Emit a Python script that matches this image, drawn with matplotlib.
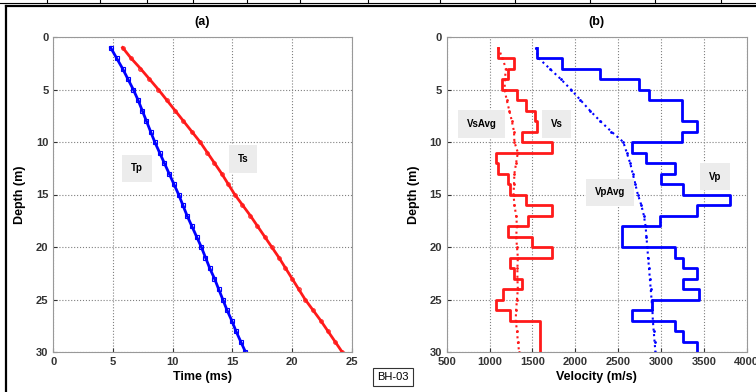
import numpy as np
import matplotlib
matplotlib.use('Agg')
from matplotlib import pyplot as plt
from matplotlib.lines import Line2D

plt.rcParams['font.family'] = ['Liberation Sans', 'DejaVu Sans']

# (a) travel times, depth 1..30 m
depth = np.arange(1, 31)
tp = [4.8, 5.3, 5.8, 6.25, 6.7, 7.1, 7.45, 7.8, 8.15, 8.5,
      8.9, 9.3, 9.7, 10.1, 10.5, 10.85, 11.2, 11.6, 12.0, 12.4,
      12.75, 13.1, 13.5, 13.85, 14.2, 14.55, 14.95, 15.3, 15.7, 16.1]
ts = [5.8, 6.5, 7.3, 8.05, 8.8, 9.5, 10.2, 10.9, 11.6, 12.3,
      12.9, 13.5, 14.1, 14.65, 15.2, 15.85, 16.5, 17.1, 17.7, 18.3,
      18.9, 19.45, 20.0, 20.55, 21.1, 21.75, 22.4, 23.0, 23.6, 24.2]

# (b) interval velocities, layers 1-2 ... 29-30 m
vs = [1100, 1280, 1220, 1150, 1320, 1430, 1530, 1550, 1375, 1725,
      1070, 1100, 1220, 1240, 1430, 1725, 1450, 1220, 1490, 1725,
      1240, 1280, 1375, 1160, 1070, 1240, 1590, 1590, 1590]
vp = [1550, 1840, 2290, 2740, 2860, 3240, 3240, 3420, 3240, 2660,
      2830, 3160, 3000, 3260, 3810, 3420, 2990, 2540, 2540, 3160,
      3260, 3420, 3260, 3440, 2890, 2660, 3160, 3260, 3420]
# average velocities at depth 1..30
vs_avg = [1100, 1150, 1190, 1180, 1175, 1200, 1230, 1260, 1285, 1290,
          1330, 1310, 1290, 1285, 1280, 1290, 1310, 1320, 1310, 1320,
          1330, 1325, 1325, 1330, 1320, 1310, 1305, 1320, 1330, 1345]
vp_avg = [1540, 1570, 1700, 1830, 1950, 2060, 2170, 2290, 2420, 2560,
          2600, 2640, 2670, 2700, 2730, 2770, 2800, 2820, 2830, 2840,
          2850, 2860, 2870, 2880, 2890, 2900, 2905, 2915, 2925, 2935]

W, H = 756, 392
fig = plt.figure(figsize=(W / 100, H / 100), dpi=100)

def px(x0, y0, x1, y1):
    return [x0 / W, 1 - y1 / H, (x1 - x0) / W, (y1 - y0) / H]

ax1 = fig.add_axes(px(53.3, 37, 351.7, 352))
ax2 = fig.add_axes(px(446.7, 37, 746.7, 352))

def style(ax):
    ax.grid(True, linestyle=':', color='0.5', linewidth=0.8)
    for s in ax.spines.values():
        s.set_color('0.6')
    ax.tick_params(direction='in', labelsize=8, colors='0.2', length=3)
    for lab in ax.get_xticklabels() + ax.get_yticklabels():
        lab.set_fontweight('bold')
    ax.set_ylabel('Depth (m)', fontsize=9, fontweight='bold', labelpad=7)

def tag(ax, x, y, s):
    ax.text(x, y, s, fontsize=7, fontweight='bold', ha='center', va='center',
            bbox=dict(facecolor='#ececec', edgecolor='none',
                      boxstyle='square,pad=0.9'))

# panel (a)
ax1.plot(tp, depth, '-s', color='#0000ff', lw=2, ms=3, mfc='none', mew=0.8)
ax1.plot(ts, depth, '-o', color='#ff1a1a', lw=2, ms=2.5, mfc='none', mew=0.8)
ax1.set_xlim(0, 25)
ax1.set_ylim(30, 0)
ax1.set_xticks(range(0, 26, 5))
ax1.set_yticks(range(0, 31, 5))
ax1.set_xlabel('Time (ms)', fontsize=9, fontweight='bold', labelpad=3)
ax1.set_title('(a)', fontsize=9, fontweight='bold', pad=9)
tag(ax1, 7.0, 12.5, 'Tp')
tag(ax1, 15.9, 11.6, 'Ts')
style(ax1)

# panel (b)
top = depth[:-1]
bot = depth[1:]
yy = np.column_stack([top, bot]).ravel()
ax2.plot(np.repeat(vs, 2), yy, color='#ff1a1a', lw=2)
ax2.plot(np.repeat(vp, 2), yy, color='#0000ff', lw=2)
ax2.plot(vs_avg, depth, ':', color='#ff1a1a', lw=1.5, marker='.', ms=2)
ax2.plot(vp_avg, depth, ':', color='#0000ff', lw=1.5, marker='.', ms=2)
ax2.set_xlim(500, 4000)
ax2.set_ylim(30, 0)
ax2.set_xticks(range(500, 4001, 500))
ax2.set_yticks(range(0, 31, 5))
ax2.set_xlabel('Velocity (m/s)', fontsize=9, fontweight='bold', labelpad=3)
ax2.set_title('(b)', fontsize=9, fontweight='bold', pad=9)
tag(ax2, 905, 8.3, 'VsAvg')
tag(ax2, 1780, 8.3, 'Vs')
tag(ax2, 2410, 14.8, 'VpAvg')
tag(ax2, 3630, 13.3, 'Vp')
style(ax2)

fig.text(393 / W, 1 - 377 / H, 'BH-03', fontsize=8, ha='center', va='center',
         bbox=dict(facecolor='white', edgecolor='0.2', pad=3, lw=0.8))

# page frame / table remnants
def fline(x, y, lw):
    fig.add_artist(Line2D(np.array(x) / W, 1 - np.array(y) / H, color='black',
                          lw=lw, transform=fig.transFigure))

fline([0, W], [2.5, 2.5], 0.8)
fline([6, W], [6, 6], 1.6)
fline([6, 6], [6, H], 1.6)
for xc in [47, 100, 147, 193, 247, 300, 368, 440, 515, 590, 655, 721]:
    fline([xc, xc], [0, 2.5], 0.8)

fig.savefig('out.png', dpi=100)
